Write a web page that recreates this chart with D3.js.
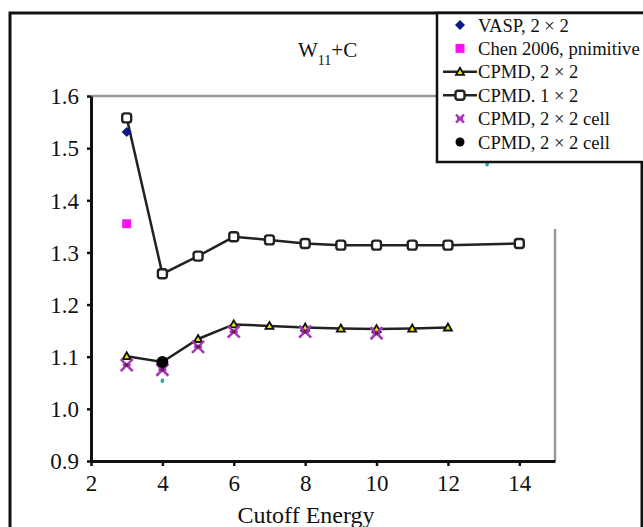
<!DOCTYPE html>
<html>
<head>
<meta charset="utf-8">
<script src="https://cdn.jsdelivr.net/npm/d3@7"></script>
</head>
<body style="margin:0;background:#fff">
<svg id="chart" width="643" height="527"></svg>
<script>
// values
const cutoff1x2 = [3, 4, 5, 6, 7, 8, 9, 10, 11, 12, 14]
const cpmd1x2 = [1.558, 1.259, 1.293, 1.330, 1.324, 1.317, 1.314, 1.314, 1.314, 1.314, 1.317]
const cutoff2x2 = [3, 4, 5, 6, 7, 8, 9, 10, 11, 12]
const cpmd2x2 = [1.101, 1.090, 1.134, 1.162, 1.159, 1.156, 1.154, 1.153, 1.154, 1.156]
const cellCutoff = [3, 4, 5, 6, 8, 10]
const cellValues = [1.084, 1.075, 1.119, 1.148, 1.148, 1.145]
const vasp = [{ x: 3, y: 1.531 }]
const chen = [{ x: 3, y: 1.355 }]
const cellBlack = [{ x: 4, y: 1.090 }]
const strayCyan = [{ x: 4, y: 1.053 }, { x: 13.1, y: 1.468 }]
const xTicks = [2, 4, 6, 8, 10, 12, 14]
const yTicks = [0.9, 1.0, 1.1, 1.2, 1.3, 1.4, 1.5, 1.6]
const legendNames = ["VASP, 2 × 2", "Chen 2006, pnimitive", "CPMD, 2 × 2", "CPMD. 1 × 2", "CPMD, 2 × 2 cell", "CPMD, 2 × 2 cell"]

const serif = "Liberation Serif"
const svg = d3.select("#chart").attr("font-family", serif)
const x = d3.scaleLinear().domain([2, 15]).range([91, 555])
const y = d3.scaleLinear().domain([0.9, 1.6]).range([461, 96])

// outer frame
svg.append("rect")
  .attr("x", 10).attr("y", 13)
  .attr("width", 632).attr("height", 540)
  .attr("fill", "none").attr("stroke", "#111").attr("stroke-width", 3)

// gray plot border (top and right)
svg.append("line")
  .attr("x1", x(2)).attr("x2", x(15)).attr("y1", y(1.6)).attr("y2", y(1.6))
  .attr("stroke", "#9a9a9a").attr("stroke-width", 2.5)
svg.append("line")
  .attr("x1", x(15)).attr("x2", x(15)).attr("y1", y(1.345)).attr("y2", y(0.9))
  .attr("stroke", "#9a9a9a").attr("stroke-width", 2.5)

// axes
const xAxis = svg.append("g")
  .attr("transform", `translate(0,${y(0.9)})`)
  .call(d3.axisBottom(x).tickValues(xTicks).tickSize(5).tickSizeOuter(0).tickPadding(7).tickFormat(d3.format("d")))
const yAxis = svg.append("g")
  .attr("transform", `translate(${x(2)},0)`)
  .call(d3.axisLeft(y).tickValues(yTicks).tickSize(4).tickSizeOuter(0).tickPadding(8).tickFormat(d3.format(".1f")))

svg.selectAll(".domain").attr("stroke", "#111").attr("stroke-width", 3)
svg.selectAll(".tick line").attr("stroke", "#111").attr("stroke-width", 2.5)
xAxis.attr("font-family", serif).attr("font-size", 23)
yAxis.attr("font-family", serif).attr("font-size", 23)
svg.selectAll(".tick text").attr("font-family", serif).attr("fill", "#111")
xAxis.selectAll(".tick text").attr("dy", "0.8em")
yAxis.selectAll(".tick text").attr("dy", "0.34em")

// x label
svg.append("text")
  .attr("x", 306).attr("y", 523)
  .attr("text-anchor", "middle")
  .attr("font-family", serif)
  .attr("font-size", 24)
  .attr("fill", "#111")
  .text("Cutoff Energy")

// title
const title = svg.append("text")
  .attr("x", 298).attr("y", 57)
  .attr("font-family", serif)
  .attr("font-size", 21)
  .attr("fill", "#111")
title.append("tspan").text("W")
title.append("tspan").attr("font-size", 14).attr("dy", 8).text("11")
title.append("tspan").attr("dy", -8).text("+C")

// marker painters
function square(g) {
  g.append("rect").attr("x", -4.5).attr("y", -4.5).attr("width", 9).attr("height", 9)
    .attr("rx", 2.5).attr("fill", "#fff").attr("stroke", "#222").attr("stroke-width", 2.4)
}
function triangle(g) {
  g.append("path").attr("d", "M0,-4L4,3L-4,3Z")
    .attr("fill", "#e8e800").attr("stroke", "#111").attr("stroke-width", 1.8)
}
function cross(g) {
  g.append("path").attr("d", "M-6,-6L6,6M6,-6L-6,6M-4,0L4,0")
    .attr("stroke", "#a43ab4").attr("stroke-width", 2.6).attr("fill", "none")
  g.append("circle").attr("r", 2).attr("fill", "#6a1a60")
}
function diamond(g) {
  g.append("path").attr("d", "M0,-5L5,0L0,5L-5,0Z").attr("fill", "#0a1a8a")
}
function pinkSquare(g) {
  g.append("rect").attr("x", -4.5).attr("y", -4.5).attr("width", 9).attr("height", 9).attr("fill", "#ff10f0")
}
function blackDot(g) {
  g.append("circle").attr("r", 6).attr("fill", "#050505")
}
function cyanMark(g) {
  g.append("path").attr("d", "M-1,-3L2,-2L1,2L-2,1Z").attr("fill", "#1aa8a8")
}

const line = d3.line().x(d => x(d[0])).y(d => y(d[1]))

// CPMD 1x2
svg.append("path")
  .datum(d3.zip(cutoff1x2, cpmd1x2))
  .attr("d", line).attr("fill", "none").attr("stroke", "#222").attr("stroke-width", 2.5)
// CPMD 2x2
svg.append("path")
  .datum(d3.zip(cutoff2x2, cpmd2x2))
  .attr("d", line).attr("fill", "none").attr("stroke", "#222").attr("stroke-width", 2.5)

function addMarkers(data, painter) {
  svg.append("g").selectAll("g").data(data).join("g")
    .attr("transform", d => `translate(${x(d.x)},${y(d.y)})`)
    .each(function () { painter(d3.select(this)) })
}

addMarkers(strayCyan, cyanMark)
addMarkers(d3.zip(cutoff2x2, cpmd2x2).map(d => ({ x: d[0], y: d[1] })), triangle)
addMarkers(d3.zip(cellCutoff, cellValues).map(d => ({ x: d[0], y: d[1] })), cross)
addMarkers(cellBlack, blackDot)
addMarkers(d3.zip(cutoff1x2, cpmd1x2).map(d => ({ x: d[0], y: d[1] })), square)
addMarkers(chen, pinkSquare)
addMarkers(vasp, diamond)

// legend
const legend = svg.append("g").attr("transform", "translate(437,13)")
legend.append("rect")
  .attr("width", 230).attr("height", 149)
  .attr("fill", "#fff").attr("stroke", "#111").attr("stroke-width", 2.5)
const legendPainters = [diamond, pinkSquare, triangle, square, cross, blackDot]
const legendLines = [false, false, true, true, false, false]
legendNames.forEach((name, i) => {
  const row = legend.append("g").attr("transform", `translate(0,${12 + i * 23.4})`)
  if (legendLines[i]) {
    row.append("line").attr("x1", 6).attr("x2", 40).attr("y1", 0).attr("y2", 0)
      .attr("stroke", "#222").attr("stroke-width", 2.5)
  }
  const m = row.append("g").attr("transform", "translate(23,0)")
  if (i === 5) m.append("circle").attr("r", 4.5).attr("fill", "#050505")
  else if (i === 4) {
    m.append("path").attr("d", "M-4,-4L4,4M4,-4L-4,4M-3,0L3,0").attr("stroke", "#a43ab4").attr("stroke-width", 2.4)
  }
  else legendPainters[i](m)
  row.append("text").attr("x", 41).attr("dy", "0.35em")
    .attr("font-family", serif).attr("font-size", 18.6).attr("fill", "#111").text(name)
})
</script>
</body>
</html>
